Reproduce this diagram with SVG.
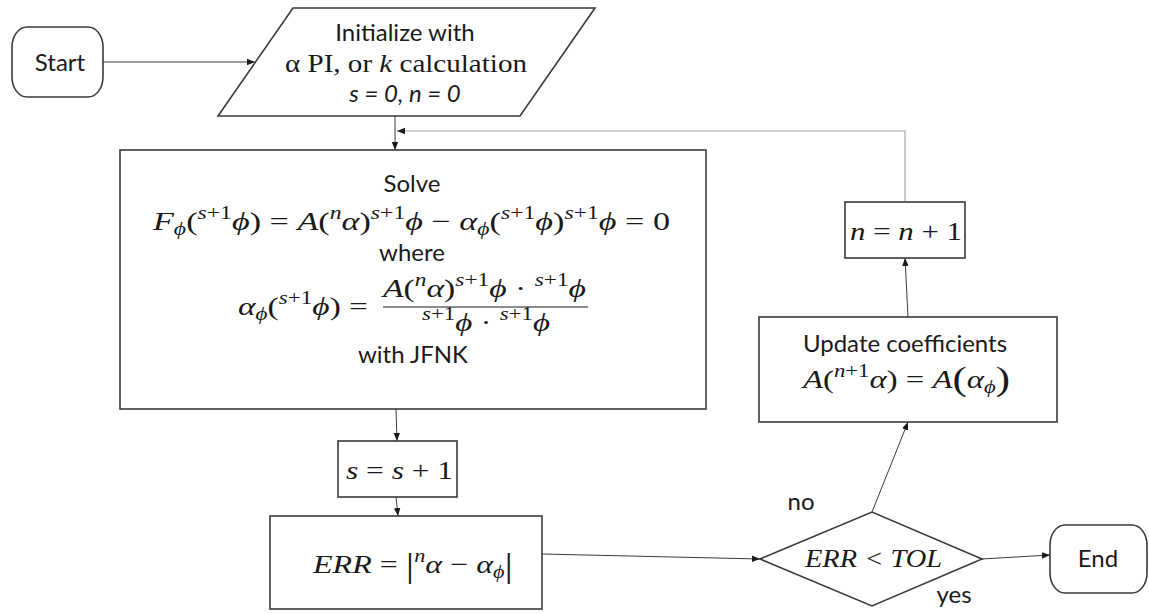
<svg xmlns="http://www.w3.org/2000/svg" width="1149" height="614" viewBox="0 0 1149 614">
  <style>
    .box { fill: #ffffff; stroke: #3a3a3a; stroke-width: 1.6; }
    .t { font-family: Lato, "Open Sans", sans-serif; font-size: 24px; fill: #1a1a1a; }
    .m { font-family: "Liberation Serif", "DejaVu Serif", serif; font-size: 26px; fill: #1a1a1a; }
    .i { font-style: italic; }
    .s { font-size: 18px; }
    .big { font-size: 34px; }
    .c { fill: none; stroke: #3a3a3a; stroke-width: 1; marker-end: url(#ah); }
    .fb { stroke: #a6a6a6; stroke-width: 1.2; }
  </style>
  <defs>
    <marker id="ah" viewBox="0 0 10 10" refX="10" refY="5" markerWidth="8" markerHeight="8" markerUnits="userSpaceOnUse" orient="auto">
      <path d="M0,1 L10,5 L0,9 z" fill="#1a1a1a"/>
    </marker>
  </defs>
  <rect width="1149" height="614" fill="#ffffff"/>

  <!-- connectors -->
  <g id="connectors">
    <path class="c" d="M103,62 L255,62"/>
    <path class="c" d="M395,116 L395,150"/>
    <path class="c fb" d="M905,202 L905,131 L397,131"/>
    <path class="c" d="M396,409 L397,441"/>
    <path class="c" d="M396,497 L398,516"/>
    <path class="c" d="M542,554 L760,559"/>
    <path class="c" d="M982,559 L1050,555"/>
    <path class="c" d="M872,512 L908,422"/>
    <path class="c" d="M908,317 L905,258"/>
  </g>

  <!-- start terminal -->
  <g id="start">
    <rect class="box" x="12" y="27" width="91" height="70" rx="15" ry="20"/>
    <text class="t" x="60" y="71" text-anchor="middle">Start</text>
  </g>

  <!-- initialisation input -->
  <g id="init">
    <polygon class="box" points="293,8 595,8 520,116 218,116"/>
    <text class="t" x="405" y="41" text-anchor="middle" font-size="25">Initialize with</text>
    <text class="m" x="285" y="72" font-size="27" textLength="242" lengthAdjust="spacingAndGlyphs">α PI, or <tspan class="i">k</tspan> calculation</text>
    <text class="t i" x="405" y="102" text-anchor="middle" font-size="26">s = 0, n = 0</text>
  </g>

  <!-- nonlinear solve -->
  <g id="solve">
    <rect class="box" x="120" y="150" width="586" height="259"/>
    <text class="t" x="412" y="192" text-anchor="middle">Solve</text>
    <text class="m" x="153" y="230" textLength="517" lengthAdjust="spacingAndGlyphs"><tspan class="i">F</tspan><tspan class="s i" dy="5">ϕ</tspan><tspan dy="-5">(</tspan><tspan class="s i" dy="-11">s</tspan><tspan class="s">+1</tspan><tspan class="i" dy="11">ϕ</tspan><tspan>) = </tspan><tspan class="i">A</tspan><tspan>(</tspan><tspan class="s i" dy="-11">n</tspan><tspan class="i" dy="11">α</tspan><tspan>)</tspan><tspan class="s i" dy="-11">s</tspan><tspan class="s">+1</tspan><tspan class="i" dy="11">ϕ</tspan><tspan> − </tspan><tspan class="i">α</tspan><tspan class="s i" dy="5">ϕ</tspan><tspan dy="-5">(</tspan><tspan class="s i" dy="-11">s</tspan><tspan class="s">+1</tspan><tspan class="i" dy="11">ϕ</tspan><tspan>)</tspan><tspan class="s i" dy="-11">s</tspan><tspan class="s">+1</tspan><tspan class="i" dy="11">ϕ</tspan><tspan> = 0</tspan></text>
    <text class="t" x="412" y="261" text-anchor="middle">where</text>
    <text class="m" x="238" y="315" textLength="130" lengthAdjust="spacingAndGlyphs"><tspan class="i">α</tspan><tspan class="s i" dy="5">ϕ</tspan><tspan dy="-5">(</tspan><tspan class="s i" dy="-11">s</tspan><tspan class="s">+1</tspan><tspan class="i" dy="11">ϕ</tspan><tspan>) =</tspan></text>
    <text class="m" x="383" y="297" textLength="203" lengthAdjust="spacingAndGlyphs"><tspan class="i">A</tspan><tspan>(</tspan><tspan class="s i" dy="-11">n</tspan><tspan class="i" dy="11">α</tspan><tspan>)</tspan><tspan class="s i" dy="-11">s</tspan><tspan class="s">+1</tspan><tspan class="i" dy="11">ϕ</tspan><tspan> · </tspan><tspan class="s i" dy="-11">s</tspan><tspan class="s">+1</tspan><tspan class="i" dy="11">ϕ</tspan></text>
    <line x1="383" y1="307" x2="588" y2="307" stroke="#1a1a1a" stroke-width="1.2"/>
    <text class="m" x="422" y="331" textLength="128" lengthAdjust="spacingAndGlyphs"><tspan class="s i" dy="-11">s</tspan><tspan class="s">+1</tspan><tspan class="i" dy="11">ϕ</tspan><tspan> · </tspan><tspan class="s i" dy="-11">s</tspan><tspan class="s">+1</tspan><tspan class="i" dy="11">ϕ</tspan></text>
    <text class="t" x="413" y="363" text-anchor="middle">with JFNK</text>
  </g>

  <!-- inner counter -->
  <g id="inc-s">
    <rect class="box" x="338" y="441" width="119" height="56"/>
    <text class="m" x="346" y="479" textLength="107" lengthAdjust="spacingAndGlyphs"><tspan class="i">s</tspan> = <tspan class="i">s</tspan> + 1</text>
  </g>

  <!-- error estimate -->
  <g id="err">
    <rect class="box" x="270" y="516" width="272" height="93"/>
    <text class="m" x="313" y="573" textLength="200" lengthAdjust="spacingAndGlyphs"><tspan class="i">ERR</tspan><tspan> = </tspan><tspan class="big" dy="4">|</tspan><tspan class="s i" dy="-15">n</tspan><tspan class="i" dy="11">α</tspan><tspan> − </tspan><tspan class="i">α</tspan><tspan class="s i" dy="5">ϕ</tspan><tspan class="big" dy="-1">|</tspan></text>
  </g>

  <!-- convergence test -->
  <g id="test">
    <polygon class="box" points="760,559 872,512 982,559 872,606"/>
    <text class="m i" x="805" y="567" textLength="137" lengthAdjust="spacingAndGlyphs">ERR &lt; TOL</text>
    <text class="t" x="801" y="510" text-anchor="middle">no</text>
    <text class="t" x="954" y="603" text-anchor="middle">yes</text>
  </g>

  <!-- coefficient update -->
  <g id="update">
    <rect class="box" x="759" y="317" width="298" height="105"/>
    <text class="t" x="905" y="352" text-anchor="middle" font-size="25">Update coefficients</text>
    <text class="m" x="803" y="388" textLength="207" lengthAdjust="spacingAndGlyphs"><tspan class="i">A</tspan><tspan>(</tspan><tspan class="s i" dy="-11">n</tspan><tspan class="s">+1</tspan><tspan class="i" dy="11">α</tspan><tspan>) = </tspan><tspan class="i">A</tspan><tspan class="big" dy="2">(</tspan><tspan class="i" dy="-2">α</tspan><tspan class="s i" dy="5">ϕ</tspan><tspan class="big" dy="-3">)</tspan></text>
  </g>

  <!-- outer counter -->
  <g id="inc-n">
    <rect class="box" x="845" y="202" width="120" height="56"/>
    <text class="m" x="850" y="240" textLength="112" lengthAdjust="spacingAndGlyphs"><tspan class="i">n</tspan> = <tspan class="i">n</tspan> + 1</text>
  </g>

  <!-- end terminal -->
  <g id="end">
    <rect class="box" x="1050" y="525" width="97" height="68" rx="15" ry="20"/>
    <text class="t" x="1098" y="567" text-anchor="middle">End</text>
  </g>
</svg>
